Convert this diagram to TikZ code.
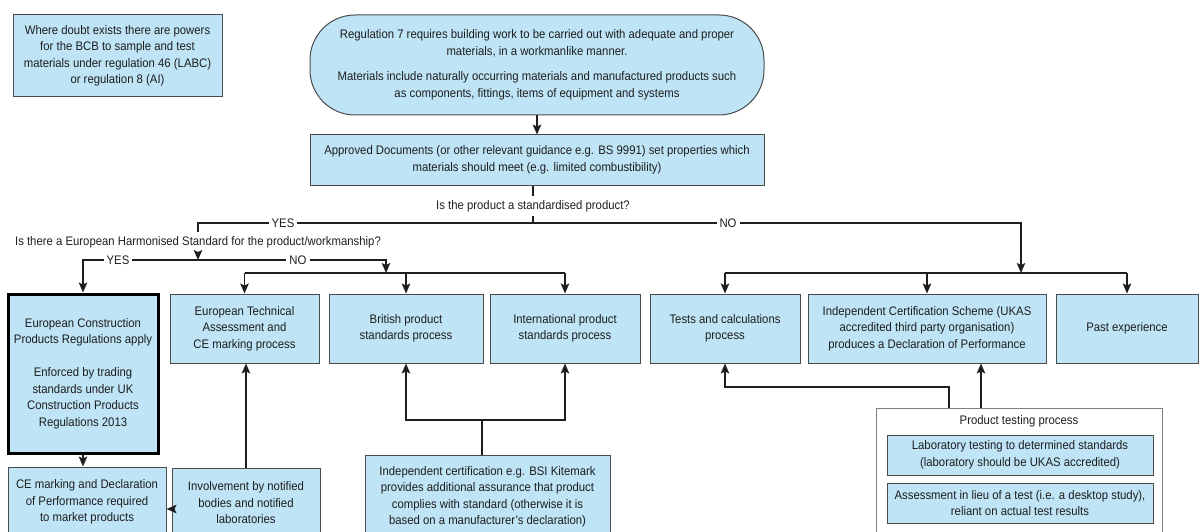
\documentclass[tikz,border=0pt]{standalone}
\usepackage{fontspec}
\setmainfont{Liberation Sans}[FakeStretch=0.915]
\usetikzlibrary{arrows.meta}
\definecolor{boxblue}{RGB}{190,228,246}
\definecolor{boxline}{RGB}{75,75,75}
\definecolor{ink}{RGB}{30,30,30}

\begin{document}
\begin{tikzpicture}[x=1pt,y=-1pt,
  font=\fontsize{12.4}{16.5}\selectfont,
  >={Stealth[length=10pt,width=8.5pt,inset=2pt]},
  box/.style={draw=boxline,line width=1pt,fill=boxblue,align=center,inner sep=0pt,text=ink},
  flow/.style={draw=ink,line width=1.6pt},
  ask/.style={inner sep=0pt,minimum height=20pt,text=ink},
  tag/.style={fill=white,inner xsep=3pt,inner ysep=0pt,text=ink}]

\useasboundingbox (0,0) rectangle (1199,532);
\clip (0,0) rectangle (1199,532);

\node[box,minimum width=209pt,minimum height=82pt] (doubt) at (117.5,56)
  {Where doubt exists there are powers\\for the BCB to sample and test\\materials under regulation 46 (LABC)\\or regulation 8 (AI)};
\node[box,rounded corners=45pt,minimum width=454pt,minimum height=100pt] (reg7) at (537,65)
  {Regulation 7 requires building work to be carried out with adequate and proper\\materials, in a workmanlike manner.\\[9pt]Materials include naturally occurring materials and manufactured products such\\as components, fittings, items of equipment and systems};
\node[box,minimum width=454pt,minimum height=50pt] (approved) at (537,160)
  {Approved Documents (or other relevant guidance e.g. BS 9991) set properties which\\materials should meet (e.g. limited combustibility)};

\node[ask] (q1) at (533,206) {Is the product a standardised product?};
\node[ask] (q2) at (198,242) {Is there a European Harmonised Standard for the product/workmanship?};

\node[box,draw=black,line width=3pt,minimum width=150pt,minimum height=159pt] (ecpr) at (83,373.5)
  {European Construction\\Products Regulations apply\\[16.5pt]Enforced by trading\\standards under UK\\Construction Products\\Regulations 2013};
\node[box,minimum width=149pt,minimum height=69pt] (eta) at (244.5,328.5) {European Technical\\Assessment and\\CE marking process};
\node[box,minimum width=154pt,minimum height=69pt] (british) at (406,328.5) {British product\\standards process};
\node[box,minimum width=150pt,minimum height=69pt] (intl) at (565,328.5) {International product\\standards process};
\node[box,minimum width=150pt,minimum height=69pt] (tests) at (725,328.5) {Tests and calculations\\process};
\node[box,minimum width=238pt,minimum height=69pt] (ics) at (927,328.5)
  {Independent Certification Scheme (UKAS\\accredited third party organisation)\\produces a Declaration of Performance};
\node[box,minimum width=142pt,minimum height=69pt] (past) at (1127,328.5) {Past experience};

\node[box,minimum width=158pt,minimum height=70pt] (ce) at (87,502)
  {CE marking and Declaration\\of Performance required\\to market products};
\node[box,minimum width=148pt,minimum height=70pt] (involve) at (246,503)
  {Involvement by notified\\bodies and notified\\laboratories};
\node[box,minimum width=245pt,minimum height=84pt] (kite) at (487.5,497)
  {Independent certification e.g. BSI Kitemark\\provides additional assurance that product\\complies with standard (otherwise it is\\based on a manufacturer’s declaration)};

\node[draw=gray,line width=1pt,fill=white,minimum width=286pt,minimum height=130pt,anchor=north] (testing) at (1019,408) {};
\node[text=ink] (testtitle) at (1019,421) {Product testing process};
\node[box,minimum width=266pt,minimum height=40pt] (lab) at (1020,455)
  {Laboratory testing to determined standards\\(laboratory should be UKAS accredited)};
\node[box,minimum width=266pt,minimum height=40pt] (assess) at (1020,503)
  {Assessment in lieu of a test (i.e. a desktop study),\\reliant on actual test results};

\coordinate (split) at (533,223);
\coordinate (split2) at (198,260);
\coordinate (euno) at (386,273);
\coordinate (nojoin) at (1021,273);
\coordinate (kj) at (482,420);

\draw[flow,->] (reg7.south) -- (approved.north);
\draw[flow] (approved.south -| q1.north) -- (q1.north);
\draw[flow] (q1.south) -- (split);
\draw[flow] (split) -| (q2.north);
\draw[flow,->] (split) -| (nojoin);
\draw[flow,->] (q2.south) -- (split2);
\draw[flow,->] (split2) -| (ecpr.north);
\draw[flow,->] (split2) -| (euno);

\draw[flow] (eta.north |- euno) -- (intl.north |- euno);
\foreach \b in {eta,british,intl}
  \draw[flow,->] (\b.north |- euno) -- (\b.north);
\draw[flow] (tests.north |- nojoin) -- (past.north |- nojoin);
\foreach \b in {tests,ics,past}
  \draw[flow,->] (\b.north |- nojoin) -- (\b.north);

\draw[flow,->] (ecpr.south) -- (ecpr.south |- ce.north);
\draw[flow,->] (involve.north) -- (involve.north |- eta.south);
\draw[flow,->] ([yshift=-6pt]involve.west) -- ([yshift=-6pt]involve.west -| ce.east);

\draw[flow] (kite.north -| kj) -- (kj);
\draw[flow,->] (kj) -| (british.south);
\draw[flow,->] (kj) -| (intl.south);

\draw[flow,->] ([xshift=-70pt]testing.north) -- ++(0,-21) -| (tests.south);
\draw[flow,->] ([xshift=-38pt]testing.north) -- ([xshift=-38pt]testing.north |- ics.south);

\node[tag] (yes1) at (283,223) {YES};
\node[tag] (no1) at (728,223) {NO};
\node[tag] (yes2) at (118,260) {YES};
\node[tag] (no2) at (298,260) {NO};
\end{tikzpicture}
\end{document}
